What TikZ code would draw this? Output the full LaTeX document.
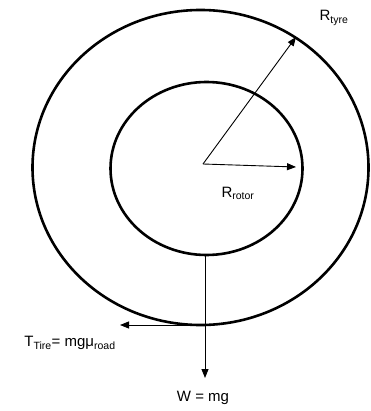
\documentclass[tikz,border=0pt]{standalone}
\usepackage{fontspec}
\setmainfont{Liberation Sans}
\usetikzlibrary{arrows.meta}

\begin{document}
\begin{tikzpicture}[x=1pt,y=-1pt,
    rim/.style={line width=2.6pt},
    force/.style={line width=0.9pt,-{Triangle[length=9pt,width=7pt]}},
    lbl/.style={font=\fontsize{15}{18}\selectfont,inner sep=0pt}]
  \useasboundingbox (0,0) rectangle (370,411);

  % Wheel outlines
  \draw[rim] (200.5,167.5) ellipse [x radius=168, y radius=157.5];
  \draw[rim] (206.5,168.5) ellipse [x radius=96, y radius=86.5];

  % Points
  \coordinate (hub) at (203,164);
  \coordinate (tyreEnd) at (296,37);
  \coordinate (rotorEnd) at (296,167);
  \coordinate (rotorBottom) at (205,255);
  \coordinate (contact) at (205,325);
  \coordinate (weightEnd) at (205,378);
  \coordinate (frictionEnd) at (120,325);

  % Radii
  \draw[force] (hub) -- (tyreEnd);
  \draw[force] (hub) -- (rotorEnd);

  % Forces
  \draw[force] (rotorBottom) -- (weightEnd);
  \draw[force] (contact) -- (frictionEnd);

  % Labels
  \node[lbl] (tyreLabel) at (334,18) {R\textsubscript{tyre}};
  \node[lbl] (rotorLabel) at (238,193) {R\textsubscript{rotor}};
  \node[lbl] (frictionLabel) at (70,343) {T\textsubscript{Tire}= mgμ\textsubscript{road}};
  \node[lbl] (weightLabel) at (203,398) {W = mg};
\end{tikzpicture}
\end{document}
